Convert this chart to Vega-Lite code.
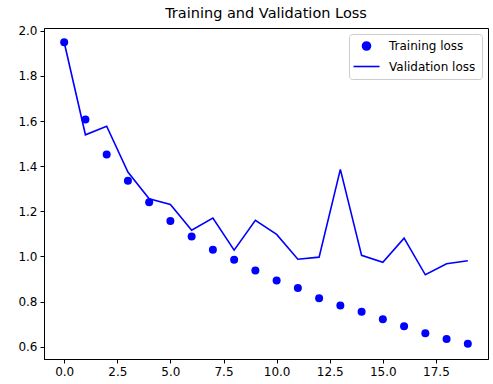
{
  "$schema": "https://vega.github.io/schema/vega-lite/v6.json",
  "width": 444,
  "height": 331,
  "autosize": "none",
  "padding": {"left": 44, "top": 28, "right": 5, "bottom": 25},
  "title": {"text": "Training and Validation Loss", "font": "DejaVu Sans", "fontSize": 14.5, "fontWeight": "normal", "color": "black", "offset": 3},
  "config": {
    "view": {"stroke": "black", "strokeWidth": 1},
    "axis": {"grid": false, "domainColor": "black", "tickColor": "black", "labelColor": "black", "labelFont": "DejaVu Sans", "labelFontSize": 12, "tickSize": 4, "labelPadding": 3, "title": null},
    "legend": {"labelFont": "DejaVu Sans", "labelFontSize": 12, "labelColor": "black"}
  },
  "data": {"values": [
    {"epoch": 0, "loss": 1.949, "series": "Training loss"},
    {"epoch": 1, "loss": 1.607, "series": "Training loss"},
    {"epoch": 2, "loss": 1.452, "series": "Training loss"},
    {"epoch": 3, "loss": 1.335, "series": "Training loss"},
    {"epoch": 4, "loss": 1.240, "series": "Training loss"},
    {"epoch": 5, "loss": 1.157, "series": "Training loss"},
    {"epoch": 6, "loss": 1.089, "series": "Training loss"},
    {"epoch": 7, "loss": 1.030, "series": "Training loss"},
    {"epoch": 8, "loss": 0.986, "series": "Training loss"},
    {"epoch": 9, "loss": 0.938, "series": "Training loss"},
    {"epoch": 10, "loss": 0.894, "series": "Training loss"},
    {"epoch": 11, "loss": 0.860, "series": "Training loss"},
    {"epoch": 12, "loss": 0.815, "series": "Training loss"},
    {"epoch": 13, "loss": 0.783, "series": "Training loss"},
    {"epoch": 14, "loss": 0.755, "series": "Training loss"},
    {"epoch": 15, "loss": 0.722, "series": "Training loss"},
    {"epoch": 16, "loss": 0.691, "series": "Training loss"},
    {"epoch": 17, "loss": 0.660, "series": "Training loss"},
    {"epoch": 18, "loss": 0.635, "series": "Training loss"},
    {"epoch": 19, "loss": 0.613, "series": "Training loss"},
    {"epoch": 0, "loss": 1.949, "series": "Validation loss"},
    {"epoch": 1, "loss": 1.539, "series": "Validation loss"},
    {"epoch": 2, "loss": 1.577, "series": "Validation loss"},
    {"epoch": 3, "loss": 1.374, "series": "Validation loss"},
    {"epoch": 4, "loss": 1.256, "series": "Validation loss"},
    {"epoch": 5, "loss": 1.230, "series": "Validation loss"},
    {"epoch": 6, "loss": 1.116, "series": "Validation loss"},
    {"epoch": 7, "loss": 1.170, "series": "Validation loss"},
    {"epoch": 8, "loss": 1.028, "series": "Validation loss"},
    {"epoch": 9, "loss": 1.160, "series": "Validation loss"},
    {"epoch": 10, "loss": 1.098, "series": "Validation loss"},
    {"epoch": 11, "loss": 0.988, "series": "Validation loss"},
    {"epoch": 12, "loss": 0.997, "series": "Validation loss"},
    {"epoch": 13, "loss": 1.386, "series": "Validation loss"},
    {"epoch": 14, "loss": 1.005, "series": "Validation loss"},
    {"epoch": 15, "loss": 0.974, "series": "Validation loss"},
    {"epoch": 16, "loss": 1.081, "series": "Validation loss"},
    {"epoch": 17, "loss": 0.919, "series": "Validation loss"},
    {"epoch": 18, "loss": 0.968, "series": "Validation loss"},
    {"epoch": 19, "loss": 0.981, "series": "Validation loss"}
  ]},
  "encoding": {
    "x": {"field": "epoch", "type": "quantitative", "scale": {"domain": [-0.95, 19.95], "nice": false, "zero": false}, "axis": {"values": [0, 2.5, 5, 7.5, 10, 12.5, 15, 17.5], "format": ".1f"}},
    "y": {"field": "loss", "type": "quantitative", "scale": {"domain": [0.546, 2.012], "nice": false, "zero": false}, "axis": {"values": [0.6, 0.8, 1.0, 1.2, 1.4, 1.6, 1.8, 2.0], "format": ".1f"}},
    "color": {"field": "series", "type": "nominal", "scale": {"domain": ["Training loss", "Validation loss"], "range": ["#0000ff", "#0000ff"]},
      "legend": {"title": null, "orient": "top-right", "offset": 6, "padding": 6, "strokeColor": "#cccccc", "fillColor": "white", "cornerRadius": 3, "rowPadding": 5, "symbolOffset": 4, "labelOffset": 15, "symbolStrokeColor": "#0000ff", "symbolStrokeWidth": 1.6, "symbolFillColor": "#0000ff"}}
  },
  "layer": [
    {
      "transform": [{"filter": "datum.series === 'Validation loss'"}],
      "mark": {"type": "line", "strokeWidth": 1.6},
      "encoding": {}
    },
    {
      "transform": [{"filter": "datum.series === 'Training loss'"}],
      "mark": {"type": "point", "filled": true, "opacity": 1, "strokeWidth": 0},
      "encoding": {
        "shape": {"field": "series", "type": "nominal", "scale": {"domain": ["Training loss", "Validation loss"], "range": ["circle", "M-2,0H2"]}},
        "size": {"field": "series", "type": "nominal", "scale": {"domain": ["Training loss", "Validation loss"], "range": [64, 169]}}
      }
    }
  ]
}
